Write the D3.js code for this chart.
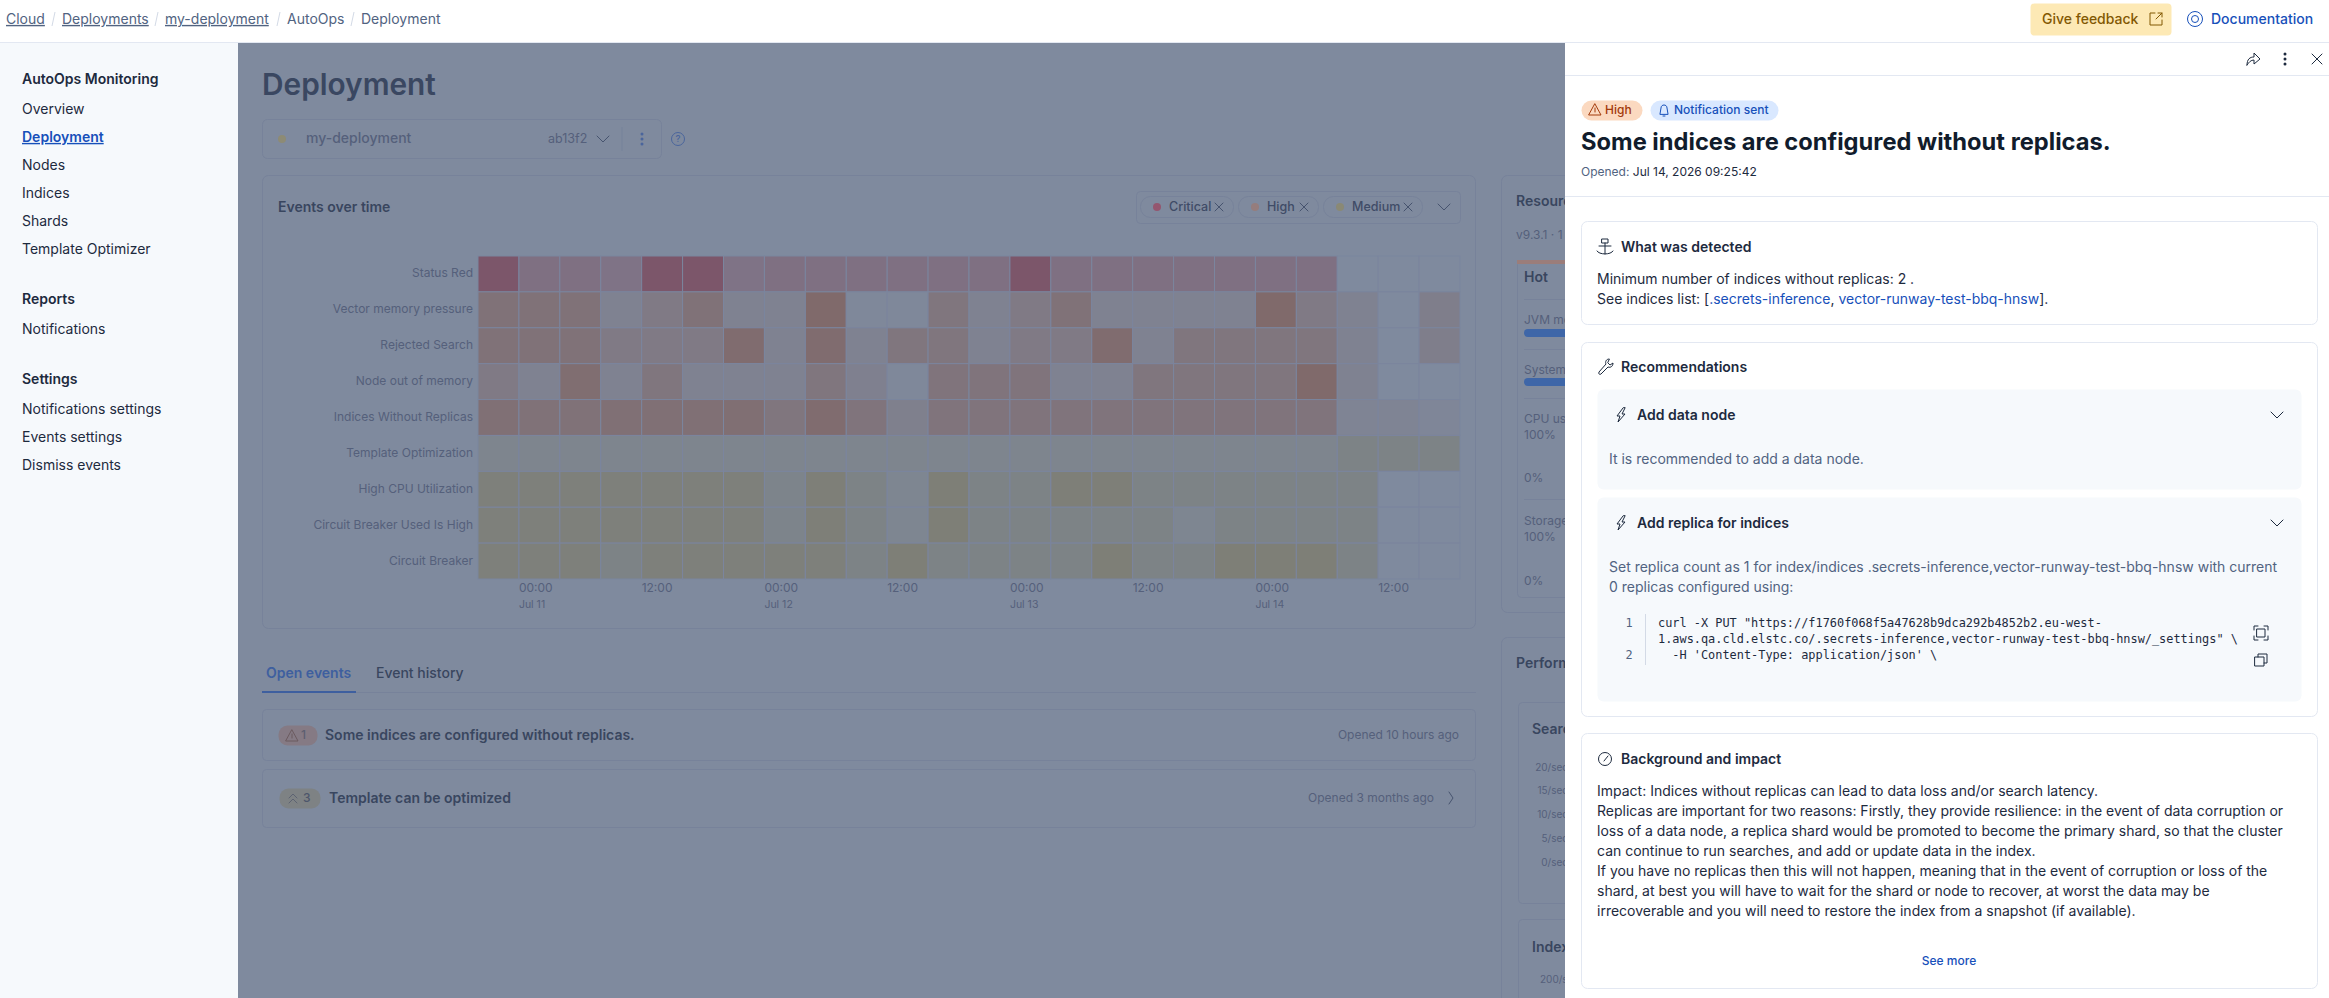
<!DOCTYPE html>
<html>
<head>
<meta charset="utf-8">
<title>AutoOps Deployment</title>
<script src="https://cdn.jsdelivr.net/npm/d3@7"></script>
<style>
  html, body { margin: 0; padding: 0; background: #fff; overflow: hidden; }
  svg { display: block; }
  text { font-family: Inter, "Noto Sans", sans-serif; }
  .mono { font-family: "DejaVu Sans Mono", monospace; font-size: 11.9px; }
</style>
</head>
<body>
<svg id="page" width="2329" height="998"></svg>
<script>
// time buckets of the heatmap, 4 hours each
const buckets = ['Jul 10 20h', 'Jul 11 00h', 'Jul 11 04h', 'Jul 11 08h', 'Jul 11 12h', 'Jul 11 16h',
  'Jul 11 20h', 'Jul 12 00h', 'Jul 12 04h', 'Jul 12 08h', 'Jul 12 12h', 'Jul 12 16h',
  'Jul 12 20h', 'Jul 13 00h', 'Jul 13 04h', 'Jul 13 08h', 'Jul 13 12h', 'Jul 13 16h',
  'Jul 13 20h', 'Jul 14 00h', 'Jul 14 04h', 'Jul 14 08h', 'Jul 14 12h', 'Jul 14 16h'];

const eventNames = ['Status Red', 'Vector memory pressure', 'Rejected Search', 'Node out of memory',
  'Indices Without Replicas', 'Template Optimization', 'High CPU Utilization',
  'Circuit Breaker Used Is High', 'Circuit Breaker'];

const eventSeverity = ['critical', 'high', 'high', 'high', 'high', 'medium', 'medium', 'medium', 'medium'];

// event intensity
const statusRed = [4, 1.5, 1.5, 1.3, 4, 4, 1.3, 1.5, 1.5, 1.5, 1.5, 1.5, 1.5, 4, 1.5, 1.5, 1.5, 1.5, 1.5, 1.5, 1.5, 0, 0, 0];
const vectorMemory = [3, 3, 3, 1, 2, 3, 1, 1, 4, 0.3, 0.3, 2.5, 1, 2, 3, 1, 1, 1, 1, 4, 2, 1, 0, 1.5];
const rejectedSearch = [3, 3, 3, 2, 2, 2, 3.7, 1, 3.7, 1, 2.5, 2.5, 1, 2, 2, 3.7, 1, 2.5, 2.5, 2.5, 2.5, 1, 0, 1.5];
const nodeOom = [2, 1, 3.5, 1, 2.5, 1, 1, 1, 2.5, 1.2, 0.3, 2.7, 2.7, 2.7, 1, 1, 2.5, 2.5, 2.5, 2.5, 4, 1, 0, 0];
const indicesNoReplica = [3.2, 3, 3, 3.2, 3.2, 3.2, 3.4, 2.5, 3.7, 2.7, 1.3, 2.7, 2.7, 2.7, 2.7, 2.7, 2.7, 2.7, 2.7, 2.7, 2.7, 0.8, 0.8, 0.5];
const templateOpt = [1, 1, 1, 1, 1, 1, 1, 1, 1, 1, 1, 1, 1, 1, 1, 1, 1, 1, 1, 1, 1, 1.5, 1.5, 1.5];
const highCpu = [3, 3, 3, 3, 3, 3, 3, 1.2, 3.3, 1.5, 0.8, 3.5, 1.5, 1.5, 3.3, 3.3, 1.5, 1.5, 1.5, 1.5, 1.5, 1.5, 0, 0];
const circuitHigh = [3, 3, 3, 3, 3, 3, 3, 1.2, 3.3, 1.5, 0.8, 3.5, 1.5, 1.5, 1.5, 1.5, 1.5, 0.8, 1.5, 1.5, 1.5, 1.5, 0, 0];
const circuitBreaker = [3, 3, 3, 1.5, 3, 3, 3, 3, 3, 1.5, 3.5, 1.5, 1.5, 1.5, 1.5, 3.5, 1.5, 1.5, 3.5, 3.5, 3.5, 1.5, 0, 0];
const eventValues = [statusRed, vectorMemory, rejectedSearch, nodeOom, indicesNoReplica, templateOpt, highCpu, circuitHigh, circuitBreaker];

const hourTicks = ['Jul 11 00h', 'Jul 11 12h', 'Jul 12 00h', 'Jul 12 12h', 'Jul 13 00h', 'Jul 13 12h', 'Jul 14 00h', 'Jul 14 12h'];
const dayTicks = ['Jul 11 00h', 'Jul 12 00h', 'Jul 13 00h', 'Jul 14 00h'];

const legendItems = ['Critical', 'High', 'Medium'];

const crumbs = ['Cloud', 'Deployments', 'my-deployment', 'AutoOps', 'Deployment'];
const navMonitoring = ['Overview', 'Deployment', 'Nodes', 'Indices', 'Shards', 'Template Optimizer'];
const navSettings = ['Notifications settings', 'Events settings', 'Dismiss events'];
const speedTicks = ['20/sec', '15/sec', '10/sec', '5/sec', '0/sec'];
const impactLines = [
  'Impact: Indices without replicas can lead to data loss and/or search latency.',
  'Replicas are important for two reasons: Firstly, they provide resilience: in the event of data corruption or',
  'loss of a data node, a replica shard would be promoted to become the primary shard, so that the cluster',
  'can continue to run searches, and add or update data in the index.',
  'If you have no replicas then this will not happen, meaning that in the event of corruption or loss of the',
  'shard, at best you will have to wait for the shard or node to recover, at worst the data may be',
  'irrecoverable and you will need to restore the index from a snapshot (if available).'
];

const dimBg = '#7f8a9e';
const dimLine = '#77829a';
const dimText = '#55607b';
const dimTitle = '#39465f';
const ink = '#1d2a3e';
const blue = '#1750ba';

const svg = d3.select('#page');

function txt(parent, x, y, s, size, fill, weight, anchor) {
  return parent.append('text')
    .attr('x', x).attr('y', y).attr('dy', '0.35em')
    .attr('font-size', size).attr('fill', fill)
    .attr('font-weight', weight || 400)
    .attr('text-anchor', anchor || 'start')
    .text(s);
}

function box(parent, x, y, w, h, fill, stroke, r) {
  return parent.append('rect')
    .attr('x', x + 0.5).attr('y', y + 0.5).attr('width', w).attr('height', h)
    .attr('rx', r === undefined ? 4 : r)
    .attr('fill', fill).attr('stroke', stroke || 'none');
}

function icon(parent, x, y, d, color, w) {
  return parent.append('path')
    .attr('transform', 'translate(' + x + ',' + y + ')')
    .attr('d', d).attr('fill', 'none').attr('stroke', color)
    .attr('stroke-width', w || 1).attr('stroke-linecap', 'round').attr('stroke-linejoin', 'round');
}

const chevron = 'M-6,-3 L0,3 L6,-3';
const cross = 'M-4,-4 L4,4 M-4,4 L4,-4';
const bolt = 'M2,-7 L-4,1 L-1,1 L-3,7 L4,-1 L1,-1 L4,-7 Z';
const triangle = 'M0,-6 L6,5 L-6,5 Z M0,-2 L0,2';

function dots(parent, x, y, color) {
  [-5, 0, 5].forEach(d => parent.append('circle').attr('cx', x).attr('cy', y + d).attr('r', 1.5).attr('fill', color));
}

/* ---------- dimmed page behind the flyout ---------- */
const main = svg.append('g');
main.append('rect').attr('x', 238).attr('y', 43).attr('width', 1340).attr('height', 955).attr('fill', dimBg);

txt(main, 262, 85, 'Deployment', 29.8, '#3a4761', 600);

box(main, 262, 119, 399, 39, 'none', dimLine, 5);
main.append('circle').attr('cx', 282).attr('cy', 139).attr('r', 4).attr('fill', '#8d8b75');
txt(main, 306, 138, 'my-deployment', 14, dimText, 500);
txt(main, 548, 139, 'ab13f2', 12.5, dimText);
icon(main, 603, 139, chevron, '#47546f');
main.append('line').attr('x1', 622).attr('x2', 622).attr('y1', 127).attr('y2', 151).attr('stroke', dimLine);
dots(main, 642, 139, '#4a659c');
main.append('circle').attr('cx', 678).attr('cy', 139).attr('r', 6.5).attr('fill', 'none').attr('stroke', '#4a659c');
txt(main, 678, 139, '?', 9.5, '#4a659c', 500, 'middle');

box(main, 262, 175, 1213, 453, 'none', dimLine, 6);
txt(main, 278, 207, 'Events over time', 14, dimTitle, 600);

// legend chips
box(main, 1136, 191, 324, 32, 'none', dimLine, 4);
const chipBox = [[1140, 93], [1238, 80], [1323, 99]];
const chipDot = [1157, 1255, 1340];
const chipColor = ['#94566f', '#957d7d', '#8a8975'];
legendItems.forEach((name, i) => {
  box(main, chipBox[i][0], 196, chipBox[i][1], 21, 'none', dimLine, 10);
  main.append('circle').attr('cx', chipDot[i]).attr('cy', 207).attr('r', 4).attr('fill', chipColor[i]);
  txt(main, chipDot[i] + 12, 207, name, 12.5, '#3f4c67', 500);
  icon(main, chipBox[i][0] + chipBox[i][1] - 14, 207, cross, '#46536e');
});
icon(main, 1444, 207, chevron, '#47546f');

/* ---------- heatmap ---------- */
const plotLeft = 478, plotRight = 1460, plotTop = 256, plotBottom = 579;

const fnX = d3.scaleBand().domain(buckets).range([plotLeft, plotRight]);
const fnY = d3.scaleBand().domain(eventNames).range([plotTop, plotBottom]);

const fnCores = {
  critical: d3.scaleLinear().domain([0, 1.5, 4]).range([dimBg, '#7f7082', '#7c566a']),
  high: d3.scaleLinear().domain([0, 4]).range([dimBg, '#806a6b']),
  medium: d3.scaleLinear().domain([0, 1.5, 4]).range([dimBg, '#7d8386', '#7e7e73'])
};

const cells = [];
eventNames.forEach((name, r) => {
  buckets.forEach((b, c) => cells.push({ name, bucket: b, severity: eventSeverity[r], value: eventValues[r][c] }));
});

const plot = main.append('g');
plot.selectAll('.cell').data(cells).enter().append('rect').classed('cell', true)
  .attr('x', d => fnX(d.bucket))
  .attr('y', d => fnY(d.name))
  .attr('width', fnX.bandwidth())
  .attr('height', fnY.bandwidth())
  .attr('fill', d => fnCores[d.severity](d.value))
  .attr('stroke', '#7b859e')
  .attr('stroke-width', 1);

const eixoY = d3.axisLeft(fnY).tickSize(0).tickPadding(5);
const gY = plot.append('g').attr('transform', 'translate(' + plotLeft + ',-0.3)').call(eixoY);
gY.select('.domain').remove();
gY.selectAll('text').attr('font-size', 12).attr('fill', dimText).style('font-family', 'Inter');

const eixoHoras = d3.axisBottom(fnX).tickValues(hourTicks).tickSize(0).tickFormat(d => d.slice(7, 9) + ':00');
const gX = plot.append('g').attr('transform', 'translate(0,' + (plotBottom + 3) + ')').call(eixoHoras);
gX.select('.domain').remove();
gX.selectAll('text').attr('font-size', 12).attr('fill', dimText).style('font-family', 'Inter')
  .attr('text-anchor', 'start').attr('x', -fnX.bandwidth() / 2).attr('dy', '0.71em').attr('y', 1);

const eixoDias = d3.axisBottom(fnX).tickValues(dayTicks).tickSize(0).tickFormat(d => d.slice(0, 6));
const gD = plot.append('g').attr('transform', 'translate(0,' + (plotBottom + 21) + ')').call(eixoDias);
gD.select('.domain').remove();
gD.selectAll('text').attr('font-size', 10.5).attr('fill', dimText).style('font-family', 'Inter')
  .attr('text-anchor', 'start').attr('x', -fnX.bandwidth() / 2).attr('dy', '0.71em').attr('y', 1);

/* ---------- tabs and open events ---------- */
txt(main, 266, 673, 'Open events', 14, '#3e5f9f', 600);
txt(main, 376, 673, 'Event history', 14, dimTitle, 500);
main.append('line').attr('x1', 262).attr('x2', 1476).attr('y1', 692.5).attr('y2', 692.5).attr('stroke', dimLine);
main.append('rect').attr('x', 262).attr('y', 691).attr('width', 94).attr('height', 2).attr('fill', '#3e5f9f');

box(main, 262, 709, 1213, 51, 'none', dimLine, 4);
box(main, 278, 725, 39, 20, '#857a84', 'none', 9);
icon(main, 292, 736, triangle, '#6b5a5f');
txt(main, 301, 735, '1', 12, '#5c5f70', 500);
txt(main, 325, 735, 'Some indices are configured without replicas.', 14, dimTitle, 600);
txt(main, 1459, 735, 'Opened 10 hours ago', 12, dimText, 400, 'end');

box(main, 262, 769, 1213, 58, 'none', dimLine, 4);
box(main, 279, 788, 41, 20, '#7e8284', 'none', 9);
icon(main, 293, 798, 'M-4,0 L0,-4 L4,0 M-4,5 L0,1 L4,5', '#5d6372');
txt(main, 303, 798, '3', 12, '#4d566b', 500);
txt(main, 329, 798, 'Template can be optimized', 14, dimTitle, 600);
txt(main, 1434, 798, 'Opened 3 months ago', 12, dimText, 400, 'end');
icon(main, 1451, 798, 'M-2,-6 L2,0 L-2,6', '#47546f');

/* ---------- right column, mostly hidden by the flyout ---------- */
box(main, 1501, 175, 90, 437, 'none', dimLine, 6);
txt(main, 1516, 201, 'Resources', 14, dimTitle, 600);
txt(main, 1516, 235, 'v9.3.1 · 1', 12, dimText);

box(main, 1517, 260, 70, 337, 'none', dimLine, 4);
main.append('rect').attr('x', 1517).attr('y', 260).attr('width', 70).attr('height', 4).attr('fill', '#9b7d7a');
txt(main, 1524, 277, 'Hot', 14, dimTitle, 600);
[299, 349, 398, 499].forEach(y => main.append('line').attr('x1', 1524).attr('x2', 1590).attr('y1', y + 0.5).attr('y2', y + 0.5).attr('stroke', dimLine));
txt(main, 1524, 320, 'JVM memory', 12, dimText);
main.append('rect').attr('x', 1524).attr('y', 329).attr('width', 60).attr('height', 8).attr('rx', 4).attr('fill', '#3e66a8');
txt(main, 1524, 370, 'System memory', 12, dimText);
main.append('rect').attr('x', 1524).attr('y', 378).attr('width', 60).attr('height', 8).attr('rx', 4).attr('fill', '#3e66a8');
txt(main, 1524, 419, 'CPU usage', 12, dimText);
txt(main, 1524, 435, '100%', 12, dimText);
txt(main, 1524, 478, '0%', 12, dimText);
txt(main, 1524, 521, 'Storage', 12, dimText);
txt(main, 1524, 537, '100%', 12, dimText);
txt(main, 1524, 581, '0%', 12, dimText);

box(main, 1501, 637, 90, 380, 'none', dimLine, 6);
txt(main, 1516, 663, 'Performance', 14, dimTitle, 600);
box(main, 1518, 702, 70, 201, 'none', dimLine, 4);
txt(main, 1532, 729, 'Search', 14, dimTitle, 600);
speedTicks.forEach((s, i) => txt(main, 1568, 767 + i * 23.8, s, 10, dimText, 400, 'end'));
box(main, 1518, 919, 70, 100, 'none', dimLine, 4);
txt(main, 1532, 947, 'Index', 14, dimTitle, 600);
txt(main, 1540, 979, '200/sec', 10, dimText);

/* ---------- sidebar ---------- */
const side = svg.append('g');
side.append('rect').attr('x', 0).attr('y', 43).attr('width', 238).attr('height', 955).attr('fill', '#f6f9fc');
txt(side, 22, 79, 'AutoOps Monitoring', 14, ink, 600);
navMonitoring.forEach((s, i) => {
  const on = s === 'Deployment';
  txt(side, 22, 109 + i * 28, s, 14, on ? blue : ink, on ? 600 : 400)
    .attr('text-decoration', on ? 'underline' : 'none');
});
txt(side, 22, 299, 'Reports', 14, ink, 600);
txt(side, 22, 329, 'Notifications', 14, ink);
txt(side, 22, 379, 'Settings', 14, ink, 600);
navSettings.forEach((s, i) => txt(side, 22, 409 + i * 28.1, s, 14, ink));

/* ---------- top bar ---------- */
const top_ = svg.append('g');
top_.append('rect').attr('x', 0).attr('y', 0).attr('width', 2329).attr('height', 42).attr('fill', '#fff');
top_.append('line').attr('x1', 0).attr('x2', 2329).attr('y1', 42.5).attr('y2', 42.5).attr('stroke', '#e3e8f2');
const crumbX = [6, 62, 165, 287, 361];
crumbs.forEach((s, i) => {
  txt(top_, crumbX[i], 19, s, 14, '#516381').attr('text-decoration', i < 3 ? 'underline' : 'none');
  if (i > 0) top_.append('line').attr('x1', crumbX[i] - 10).attr('x2', crumbX[i] - 7)
    .attr('y1', 26).attr('y2', 12).attr('stroke', '#d3dae6');
});
box(top_, 2030, 3, 141, 32, '#fde9b5', 'none', 4);
txt(top_, 2042, 19, 'Give feedback', 14, '#825803', 500);
icon(top_, 2156, 19, 'M-1,-6 L-6,-6 L-6,6 L6,6 L6,1 M0,0 L6,-6 M2,-6 L6,-6 L6,-2', '#825803');
top_.append('circle').attr('cx', 2195).attr('cy', 19).attr('r', 7.5).attr('fill', 'none').attr('stroke', blue);
top_.append('circle').attr('cx', 2195).attr('cy', 19).attr('r', 3.5).attr('fill', 'none').attr('stroke', blue);
txt(top_, 2211, 19, 'Documentation', 14, blue, 500);

/* ---------- flyout ---------- */
const fly = svg.append('g');
fly.append('rect').attr('x', 1565).attr('y', 43).attr('width', 764).attr('height', 955).attr('fill', '#fff');
fly.append('line').attr('x1', 1565).attr('x2', 2329).attr('y1', 75.5).attr('y2', 75.5).attr('stroke', '#e3e8f2');
fly.append('line').attr('x1', 1565).attr('x2', 2329).attr('y1', 196.5).attr('y2', 196.5).attr('stroke', '#e3e8f2');
icon(fly, 2253, 59, 'M-6,6 C-6,0 -3,-2 1,-2 L1,-6 L7,0 L1,5 L1,1 C-2,1 -4,3 -6,6 Z', ink);
dots(fly, 2285, 59, ink);
icon(fly, 2317, 59, 'M-5,-5 L5,5 M-5,5 L5,-5', ink);

box(fly, 1581, 100, 61, 20, '#fbd9c0', 'none', 10);
icon(fly, 1595, 110, triangle, '#a33a0b');
txt(fly, 1605, 110, 'High', 12, '#a33a0b', 500);
box(fly, 1650, 100, 128, 20, '#d9e8ff', 'none', 10);
icon(fly, 1664, 110, 'M-4,4 L-3,-2 C-3,-6 3,-6 3,-2 L4,4 Z M-1,6 L1,6', blue);
txt(fly, 1674, 110, 'Notification sent', 12, blue, 500);
txt(fly, 1581, 142, 'Some indices are configured without replicas.', 23.7, '#111c2c', 700);
const opened = txt(fly, 1581, 172, 'Opened: ', 12, '#516381');
opened.append('tspan').attr('fill', ink).attr('font-weight', 400).text('Jul 14, 2026 09:25:42');

// what was detected
box(fly, 1581, 221, 736, 103, '#fff', '#e3e8f2', 6);
icon(fly, 1605, 247, 'M-3,-8 L3,-8 L3,-4 L-3,-4 Z M0,-4 L0,7 M-6,-1 L6,-1 M-8,4 C-6,8 6,8 8,4', ink);
txt(fly, 1621, 247, 'What was detected', 14, ink, 600);
txt(fly, 1597, 279, 'Minimum number of indices without replicas: 2 .', 14, ink);
const seeList = txt(fly, 1597, 299, 'See indices list: [', 14, ink);
seeList.append('tspan').attr('fill', blue).text('.secrets-inference');
seeList.append('tspan').text(', ');
seeList.append('tspan').attr('fill', blue).text('vector-runway-test-bbq-hnsw');
seeList.append('tspan').text('].');

// recommendations
box(fly, 1581, 342, 736, 374, '#fff', '#e3e8f2', 6);
icon(fly, 1605, 367, 'M4,-8 C1,-8 0,-5 1,-3 L-6,5 C-7,7 -5,8 -4,7 L3,0 C6,1 8,-1 8,-4 L5,-2 L3,-4 Z', ink);
txt(fly, 1621, 367, 'Recommendations', 14, ink, 600);

box(fly, 1597, 389, 704, 100, '#f6f9fc', 'none', 6);
icon(fly, 1621, 415, bolt, ink);
txt(fly, 1637, 415, 'Add data node', 14, ink, 600);
icon(fly, 2277, 415, chevron, ink);
txt(fly, 1609, 459, 'It is recommended to add a data node.', 14, '#516381');

box(fly, 1597, 497, 704, 204, '#f6f9fc', 'none', 6);
icon(fly, 1621, 523, bolt, ink);
txt(fly, 1637, 523, 'Add replica for indices', 14, ink, 600);
icon(fly, 2277, 523, chevron, ink);
txt(fly, 1609, 567, 'Set replica count as 1 for index/indices .secrets-inference,vector-runway-test-bbq-hnsw with current', 14, '#516381');
txt(fly, 1609, 587, '0 replicas configured using:', 14, '#516381');

txt(fly, 1629, 623, '1', 12, '#516381', 400, 'middle').classed('mono', true);
txt(fly, 1629, 655, '2', 12, '#516381', 400, 'middle').classed('mono', true);
fly.append('line').attr('x1', 1645.5).attr('x2', 1645.5).attr('y1', 614).attr('y2', 665).attr('stroke', '#d3dae6');
txt(fly, 1658, 623, 'curl -X PUT "https://f1760f068f5a47628b9dca292b4852b2.eu-west-', 12, ink).classed('mono', true);
txt(fly, 1658, 639, '1.aws.qa.cld.elstc.co/.secrets-inference,vector-runway-test-bbq-hnsw/_settings" \\', 12, ink).classed('mono', true);
txt(fly, 1658, 655, '  -H \'Content-Type: application/json\' \\', 12, ink).classed('mono', true).style('white-space', 'pre');
icon(fly, 2261, 633, 'M-7,-3 L-7,-7 L-3,-7 M3,-7 L7,-7 L7,-3 M7,3 L7,7 L3,7 M-3,7 L-7,7 L-7,3 M-4,-4 L4,-4 L4,4 L-4,4 Z', ink);
icon(fly, 2261, 660, 'M-3,-3 L-3,-6 L6,-6 L6,3 L3,3 M-6,-3 L3,-3 L3,6 L-6,6 Z', ink);

// background and impact
box(fly, 1581, 733, 736, 255, '#fff', '#e3e8f2', 6);
fly.append('circle').attr('cx', 1605).attr('cy', 759).attr('r', 6.5).attr('fill', 'none').attr('stroke', ink);
icon(fly, 1605, 759, 'M-1,2 L3,-3', ink);
txt(fly, 1621, 759, 'Background and impact', 14, ink, 600);
impactLines.forEach((s, i) => txt(fly, 1597, 791 + i * 20, s, 14, ink));
txt(fly, 1949, 961, 'See more', 12, blue, 500, 'middle');
</script>
</body>
</html>
